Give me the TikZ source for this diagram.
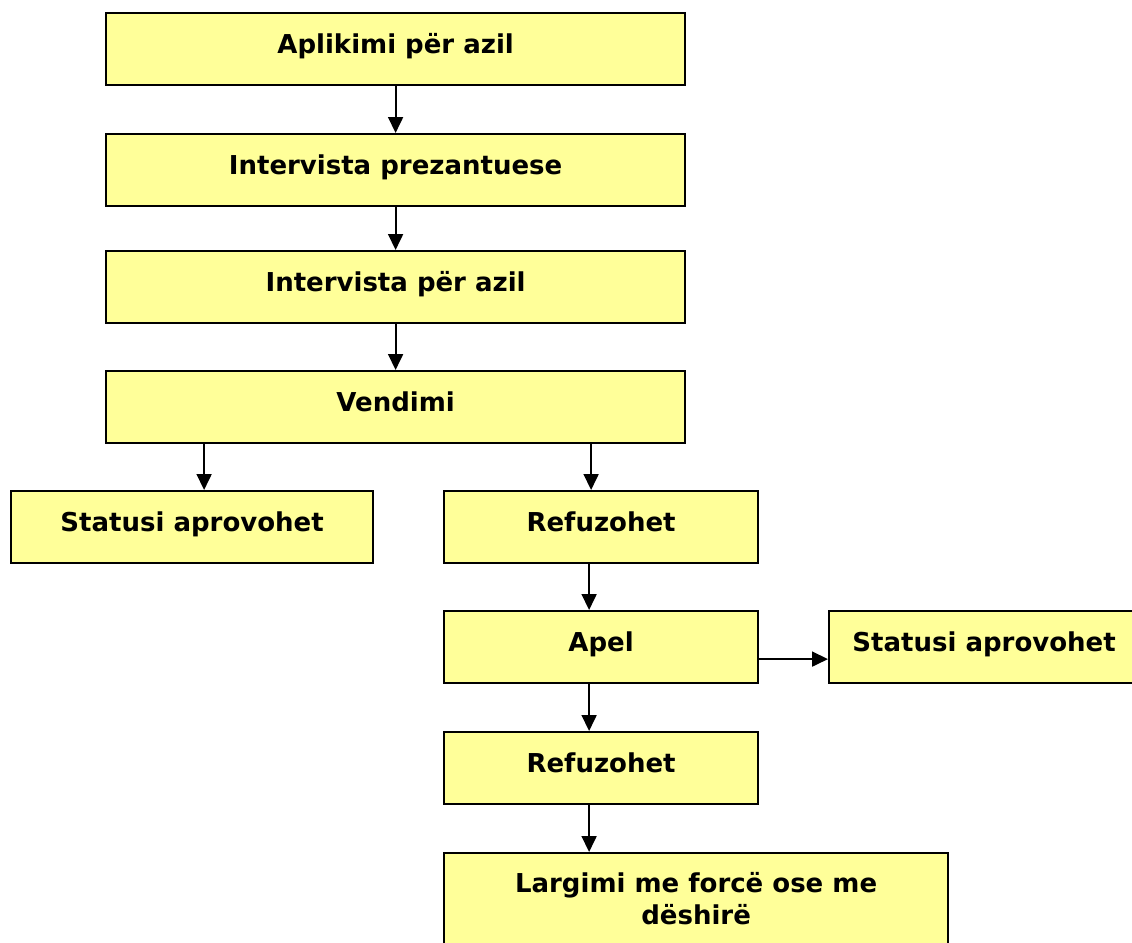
\documentclass[tikz,border=0pt]{standalone}
\usepackage{fontspec}
\setmainfont{DejaVu Sans}
\usetikzlibrary{arrows.meta,calc}
\definecolor{boxfill}{HTML}{FFFF99}
\tikzset{
  flowbox/.style={draw=black, line width=2.2pt, fill=boxfill, rectangle, inner sep=0pt,
    anchor=north west, font=\fontsize{26}{30}\selectfont\bfseries,
    text height=19pt, text depth=11pt, align=center},
  arr/.style={line width=1.8pt, -{Triangle[width=15pt,length=16pt]}}
}
\begin{document}
\begin{tikzpicture}[x=1pt,y=1pt]
\useasboundingbox (0,0) rectangle (1132,-942);
\clip (0,0) rectangle (1132,-942);
\node[flowbox, minimum width=579pt, minimum height=72pt] (b1) at (105,-12) {Aplikimi për azil};
\node[flowbox, minimum width=579pt, minimum height=72pt] (b2) at (105,-133) {Intervista prezantuese};
\node[flowbox, minimum width=579pt, minimum height=72pt] (b3) at (105,-250) {Intervista për azil};
\node[flowbox, minimum width=579pt, minimum height=72pt] (b4) at (105,-370) {Vendimi};
\node[flowbox, minimum width=362pt, minimum height=72pt] (b5) at (10,-490) {Statusi aprovohet};
\node[flowbox, minimum width=314pt, minimum height=72pt] (b6) at (443,-490) {Refuzohet};
\node[flowbox, minimum width=314pt, minimum height=72pt] (b7) at (443,-610) {Apel};
\node[flowbox, minimum width=310pt, minimum height=72pt] (b8) at (828,-610) {Statusi aprovohet};
\node[flowbox, minimum width=314pt, minimum height=72pt] (b9) at (443,-731) {Refuzohet};
\node[flowbox, minimum width=504pt, minimum height=100pt, text height=49pt, text depth=7pt] (b10) at (443,-852) {Largimi me forcë ose me\\[2pt]dëshirë};
\draw[arr] (b1.south) -- (b2.north);
\draw[arr] (b2.south) -- (b3.north);
\draw[arr] (b3.south) -- (b4.north);
\draw[arr] ([xshift=12pt]b5.north |- b4.south) -- ([xshift=12pt]b5.north);
\draw[arr] ([xshift=-10pt]b6.north |- b4.south) -- ([xshift=-10pt]b6.north);
\draw[arr] ([xshift=-12pt]b6.south) -- ([xshift=-12pt]b7.north);
\draw[arr] ([xshift=-12pt]b7.south) -- ([xshift=-12pt]b9.north);
\draw[arr] ([xshift=-12pt]b9.south) -- ([xshift=-12pt]b9.south |- b10.north);
\draw[arr] ([yshift=-12pt]b7.east) -- ([yshift=-12pt]b7.east -| b8.west);
\end{tikzpicture}
\end{document}
